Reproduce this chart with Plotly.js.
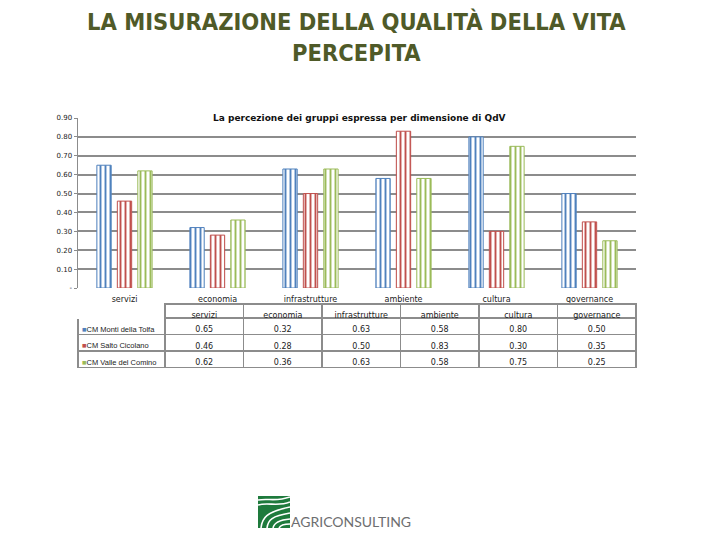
<!DOCTYPE html>
<html>
<head>
<meta charset="utf-8">
<script src="https://cdn.plot.ly/plotly-3.0.1.min.js"></script>
<style>html,body{margin:0;padding:0;background:#fff;}#chart{width:720px;height:540px;}</style>
</head>
<body>
<div id="chart"></div>
<script>
const categories = ['servizi', 'economia', 'infrastrutture', 'ambiente', 'cultura', 'governance'];
const seriesNames = ['CM Monti della Tolfa', 'CM Salto Cicolano', 'CM Valle del Comino'];
const montiTolfa = [0.65, 0.32, 0.63, 0.58, 0.80, 0.50];
const saltoCicolano = [0.46, 0.28, 0.50, 0.83, 0.30, 0.35];
const valleComino = [0.62, 0.36, 0.63, 0.58, 0.75, 0.25];
const yTickVals = [0, 0.1, 0.2, 0.3, 0.4, 0.5, 0.6, 0.7, 0.8, 0.9];
const yTickText = ['-', '0.10', '0.20', '0.30', '0.40', '0.50', '0.60', '0.70', '0.80', '0.90'];

const colors = ['#4F81BD', '#C0504D', '#9BBB59'];
const seriesValues = [montiTolfa, saltoCicolano, valleComino];

const traces = seriesValues.map((vals, i) => ({
  type: 'bar',
  name: seriesNames[i],
  x: categories,
  y: vals,
  marker: {
    color: 'white',
    line: {color: colors[i], width: 1},
    pattern: {shape: '|', fgcolor: colors[i], bgcolor: 'white', size: 5, solidity: 0.38}
  },
  hoverinfo: 'skip'
}));

const fmt = v => v.toFixed(2);
const tableColumns = [seriesNames.map(() => '')].concat(categories.map((c, j) => seriesValues.map(s => fmt(s[j]))));

// pixel -> paper helpers (plot area: x 78..636, y 118..370)
const px = x => (x - 78) / 558;
const py = y => (370 - y) / 252;

const HEADER_H = 14, ROW_H = 16.5, TABLE_TOP = 304;

traces.push({
  type: 'table',
  domain: {x: [0, 1], y: [0, py(TABLE_TOP)]},
  columnwidth: [87, 78.5, 78.5, 78.5, 78.5, 78.5, 78.5],
  header: {
    values: [''].concat(categories),
    height: HEADER_H,
    align: 'center',
    line: {color: ['white', '#8c8c8c', '#8c8c8c', '#8c8c8c', '#8c8c8c', '#8c8c8c', '#8c8c8c'], width: 1.5},
    fill: {color: 'white'},
    font: {family: 'DejaVu Sans', size: 8, color: '#222'}
  },
  cells: {
    values: tableColumns,
    height: ROW_H,
    align: ['left', 'center', 'center', 'center', 'center', 'center', 'center'],
    line: {color: '#8c8c8c', width: 1.5},
    fill: {color: 'white'},
    font: {family: 'DejaVu Sans', size: 8, color: '#222'}
  }
});

// logo icon as drawing
const logoSvg = '<svg xmlns="http://www.w3.org/2000/svg" width="32" height="32" viewBox="0 0 32 32">' +
  '<rect x="0" y="0" width="32" height="32" fill="#1e7a3c"/>' +
  '<path d="M0 4 C10 2 18 6 32 1" stroke="white" stroke-width="1.6" fill="none"/>' +
  '<path d="M0 9 C10 6 20 11 32 6" stroke="white" stroke-width="1.6" fill="none"/>' +
  '<path d="M3 32 C4 22 8 16 32 11" stroke="white" stroke-width="1.6" fill="none"/>' +
  '<path d="M9 32 C10 24 14 20 32 17" stroke="white" stroke-width="1.6" fill="none"/>' +
  '<path d="M15 32 C16 27 20 24 32 23" stroke="white" stroke-width="1.6" fill="none"/>' +
  '<path d="M21 32 C22 30 25 28 32 28" stroke="white" stroke-width="1.6" fill="none"/>' +
  '</svg>';

const annotations = [
  {
    text: 'LA MISURAZIONE DELLA QUALITÀ DELLA VITA<br>PERCEPITA',
    xref: 'paper', yref: 'paper', x: px(356), y: py(37), xanchor: 'center', yanchor: 'middle',
    showarrow: false,
    font: {family: 'Liberation Sans Narrow, DejaVu Sans Condensed, sans-serif', size: 23.5, color: '#4F5A28', weight: 'bold'}
  },
  {
    text: '<b>La percezione dei gruppi espressa per dimensione di QdV</b>',
    xref: 'paper', yref: 'y', x: 0.505, y: 0.9, xanchor: 'center', yanchor: 'middle',
    showarrow: false, bgcolor: 'white', borderpad: 0,
    font: {family: 'DejaVu Sans', size: 9, color: '#111'}
  },
  {
    text: 'AGRICONSULTING',
    xref: 'paper', yref: 'paper', x: px(289), y: py(521),
    xanchor: 'left', yanchor: 'middle', showarrow: false,
    font: {family: 'Lato, sans-serif', size: 14, color: '#6d6e70'}
  }
];

// series names (with colour keys) in the table's first column
seriesNames.forEach((n, i) => {
  const yc = TABLE_TOP + HEADER_H + ROW_H * i + ROW_H / 2 + 3;
  annotations.push({
    text: '<span style="color:' + colors[i] + '">■</span>' + n,
    xref: 'paper', yref: 'paper', x: px(80), y: py(yc),
    xanchor: 'left', yanchor: 'middle', showarrow: false,
    font: {family: 'Liberation Sans, sans-serif', size: 7.5, color: '#222'}
  });
});

const layout = {
  width: 720, height: 540,
  margin: {l: 78, r: 84, t: 118, b: 170},
  paper_bgcolor: 'white', plot_bgcolor: 'white',
  showlegend: false,
  barmode: 'group',
  bargap: 0.34,
  bargroupgap: 0.3,
  xaxis: {
    type: 'category',
    showgrid: false, zeroline: false, showline: false,
    ticks: '', ticklabelstandoff: 5,
    tickfont: {family: 'DejaVu Sans', size: 8, color: '#222'},
    fixedrange: true
  },
  yaxis: {
    domain: [0.3254, 1],
    range: [0, 0.9],
    tickvals: yTickVals, ticktext: yTickText,
    showgrid: true, gridcolor: '#8c8c8c', gridwidth: 2,
    zeroline: false, showline: true, linecolor: '#8c8c8c', linewidth: 1.5,
    ticks: 'outside', ticklen: 3, tickcolor: '#8c8c8c',
    tickfont: {family: 'DejaVu Sans', size: 7, color: '#222'},
    fixedrange: true
  },
  annotations: annotations,
  images: [{
    source: 'data:image/svg+xml;charset=utf-8,' + encodeURIComponent(logoSvg),
    xref: 'paper', yref: 'paper',
    x: px(258), y: py(496),
    sizex: 32 / 558, sizey: 32 / 252,
    xanchor: 'left', yanchor: 'top', sizing: 'stretch'
  }]
};

Plotly.newPlot('chart', traces, layout, {displayModeBar: false, staticPlot: true});
</script>
</body>
</html>
